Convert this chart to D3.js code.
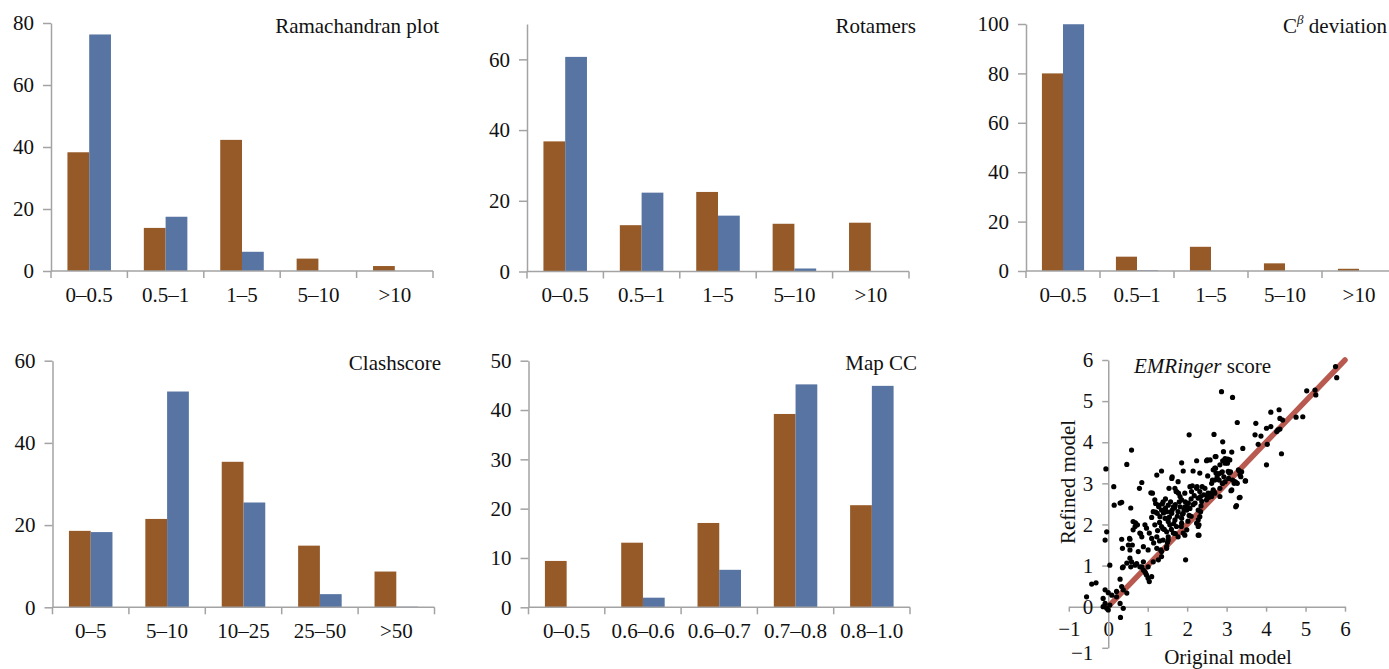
<!DOCTYPE html>
<html><head><meta charset="utf-8">
<script src="https://cdn.jsdelivr.net/npm/d3@7"></script>
<style>
body{margin:0;background:#fff;}
svg{display:block;}
text{font-family:"Liberation Serif","Times New Roman",serif;fill:#111;}
</style>
</head><body>
<svg id="c" width="1389" height="669"></svg>
<script>
// ---------- DATA ----------
const seriesNames = ["Original model", "Refined model"];

const ramaCats = ["0–0.5", "0.5–1", "1–5", "5–10", ">10"];
const ramaOriginal = [38.3, 13.9, 42.3, 4.0, 1.6];
const ramaRefined = [76.3, 17.5, 6.2, 0, 0];
const ramaTicks = [0, 20, 40, 60, 80];

const rotaCats = ["0–0.5", "0.5–1", "1–5", "5–10", ">10"];
const rotaOriginal = [36.8, 13.1, 22.5, 13.5, 13.8];
const rotaRefined = [60.7, 22.3, 15.8, 0.85, 0];
const rotaTicks = [0, 20, 40, 60];

const cbCats = ["0–0.5", "0.5–1", "1–5", "5–10", ">10"];
const cbOriginal = [80, 5.8, 9.8, 3.1, 0.9];
const cbRefined = [99.9, 0.3, 0, 0, 0];
const cbTicks = [0, 20, 40, 60, 80, 100];

const clashCats = ["0–5", "5–10", "10–25", "25–50", ">50"];
const clashOriginal = [18.6, 21.5, 35.4, 15.0, 8.7];
const clashRefined = [18.3, 52.5, 25.5, 3.2, 0.15];
const clashTicks = [0, 20, 40, 60];

const ccCats = ["0–0.5", "0.6–0.6", "0.6–0.7", "0.7–0.8", "0.8–1.0"];
const ccOriginal = [9.4, 13.1, 17.1, 39.2, 20.7];
const ccRefined = [0, 1.95, 7.6, 45.2, 44.9];
const ccTicks = [0, 10, 20, 30, 40, 50];

const emrTicks = [-1, 0, 1, 2, 3, 4, 5, 6];
const diagX = [0, 6];
const diagY = [0, 6];
const emrOriginal = [
 5.76,5.79,5.24,5.03,5.26,2.87,3.15,4.12,4.33,4.35,4.42,4.76,4.93,3.27,3.74,4.01,4.12,4.27,4.35,4.30,3.72,3.87,3.80,4.03,2.68,2.90,4.39,4.01,3.41,3.13,2.92,2.05,0.59,0.47,-0.06,
 2.49,2.90,3.00,2.83,2.66,2.73,3.32,3.34,3.07,3.47,3.24,3.11,3.32,3.23,1.86,2.24,2.58,2.73,3.03,2.96,1.61,1.90,2.15,2.32,2.52,2.70,2.87,3.04,3.30,3.21,3.13,1.77,2.07,2.24,2.45,2.62,2.70,2.81,2.96,1.69,1.73,1.94,2.11,2.32,2.53,2.66,2.83,2.28,2.62,2.83,2.49,1.86,2.03,2.20,2.37,1.52,1.65,1.82,1.94,2.07,1.48,1.61,1.77,1.90,1.99,2.28,1.52,1.69,1.86,2.32,1.56,1.73,1.86,2.24,2.28,1.48,1.65,1.77,1.90,1.52,2.28,1.96,1.48,
 0.14,0.79,0.85,1.23,1.35,1.08,0.15,0.30,0.34,0.57,1.18,1.27,1.39,1.35,1.14,1.10,1.31,1.44,0.63,0.68,0.93,0.97,1.18,1.35,1.52,-0.04,-0.08,0.34,0.55,0.80,0.85,1.04,1.10,1.23,1.39,1.52,0.36,0.51,0.55,0.76,0.89,1.01,1.23,1.35,1.48,0.55,0.59,0.47,0.38,0.68,0.89,0.85,1.01,1.14,1.27,1.35,0.04,0.93,0.97,1.01,1.04,1.10,-0.42,-0.31,-0.55,-0.08,0,0.21,0.34,0.38,0.47,0.09,0.21,-0.13,-0.08,-0.13,-0.04,0,0.04,0.30,0.38,0.31,0.30,0.36,
 0.54,0.57,0.61,0.63,0.69,0.74,0.82,0.72,0.80,0.89,0.95,1.24,1.20,1.28,1.37,1.41,1.12,1.62,1.54,1.72,1.78,1.82,1.99,1.94,2.13,2.25,2.38,2.34,2.28,2.30,2.30,2.34,2.51,2.60,2.68,2.64,2.76,2.81,2.89,2.93,2.89,2.72,3.10,3.15,3.19,3.27,3.25,3.38,3.36,3.34,3.48,2.51,2.71,2.96,3.08,3.02,
 1.30,1.40,1.45,1.58,1.62,1.70,1.75,1.80,1.95,2.00,2.10,2.15,2.18,1.55,1.66,1.42,1.60,1.25,1.15,1.30,1.33,1.50,1.70,1.85,2.10,2.35,2.55,2.70,2.90,3.05,1.20,1.45,1.68,1.92,2.05,2.42,1.38,1.58,1.88,2.02
];
const emrRefined = [
 5.84,5.57,5.27,5.25,5.15,5.23,5.09,4.73,4.79,4.58,4.54,4.61,4.62,4.48,4.46,4.34,4.38,4.26,4.32,4.30,4.18,4.15,3.95,3.95,4.19,4.01,3.72,3.45,3.85,3.76,3.77,4.18,3.81,3.46,3.35,
 3.55,3.55,3.57,3.45,3.33,3.25,3.30,3.20,3.25,3.06,3.02,2.82,2.65,2.43,3.50,3.55,3.57,3.65,3.59,3.49,3.12,3.30,3.30,3.25,3.18,3.37,3.26,3.29,3.33,3.04,2.84,3.04,2.92,2.88,2.88,3.00,3.08,3.08,3.04,2.88,2.80,2.76,2.80,2.80,2.76,2.84,2.88,2.64,2.68,2.68,2.60,2.60,2.52,2.52,2.56,2.47,2.43,2.43,2.43,2.39,2.31,2.27,2.31,2.27,2.35,2.35,2.15,2.11,2.15,2.19,1.99,1.95,2.03,2.03,1.95,1.82,1.79,1.70,1.79,1.62,1.74,1.14,1.46,
 2.92,2.88,3.02,3.20,3.30,2.77,2.47,2.52,2.54,2.40,2.60,2.47,2.55,2.35,2.31,2.17,2.19,2.15,2.07,1.95,1.99,1.91,1.99,1.95,2.07,1.82,1.62,1.64,1.64,1.79,1.70,1.79,1.66,1.70,1.62,1.70,1.42,1.50,1.38,1.34,1.46,1.38,1.42,1.34,1.42,1.18,1.09,1.06,0.97,1.01,1.09,0.97,0.97,1.09,1.14,1.22,1.01,0.85,0.77,0.69,0.61,0.73,0.55,0.58,0.24,0.41,0.34,0.37,0.49,0.41,0.33,0.28,0.24,0.20,0.08,0.00,-0.04,-0.08,0.04,0.08,-0.04,-0.26,0.67,0.95,
 1.66,0.97,1.50,1.87,2.04,1.99,1.78,1.05,0.97,0.89,0.81,2.27,2.51,2.43,2.50,2.35,2.76,3.16,2.88,2.80,2.76,2.68,1.87,1.74,2.94,2.92,2.92,2.68,2.11,1.99,1.74,2.31,2.68,2.76,2.80,3.08,3.16,3.24,3.28,3.16,3.00,3.37,3.28,3.08,3.00,3.00,2.46,3.28,3.16,2.66,3.06,3.57,3.65,3.60,3.57,3.49,
 2.05,2.28,2.40,2.55,2.35,2.48,2.20,2.55,2.55,2.45,2.62,2.48,2.70,2.18,2.02,1.88,1.88,1.85,1.55,1.60,1.38,1.56,1.78,1.95,2.20,2.45,2.66,2.76,3.00,3.12,2.30,2.62,2.40,2.36,2.22,2.72,1.90,2.30,2.25,2.08
];

// ---------- DRAW ----------
const svg = d3.select("#c");
const FS = 21;
const AXC = "#a3a3a3";
const colors = ["#955A28", "#5774A3"];

function barPanel(cfg) {
  const g = svg.append("g");
  const x0 = d3.scaleBand().domain(cfg.cats).range([cfg.xl, cfg.xr]).padding(0);
  const x1 = d3.scaleBand().domain([0, 1]).range([0, x0.bandwidth()]).paddingInner(0).paddingOuter(0.755);
  const y = d3.scaleLinear().domain([0, cfg.yMax]).range([cfg.y0, cfg.yTop]);
  const rows = cfg.cats.map((c, i) => ({cat: c, vals: [cfg.orig[i], cfg.ref[i]]}));
  const grp = g.selectAll("g.cat").data(rows).join("g")
    .attr("transform", d => `translate(${x0(d.cat)},0)`);
  grp.selectAll("rect").data(d => d.vals.map((v, k) => ({v, k}))).join("rect")
    .attr("x", d => x1(d.k)).attr("width", x1.bandwidth())
    .attr("y", d => y(d.v)).attr("height", d => y(0) - y(d.v))
    .attr("fill", d => colors[d.k]);

  const ya = g.append("g").attr("transform", `translate(${cfg.xl},0)`)
    .call(d3.axisLeft(y).tickValues(cfg.ticks).tickFormat(d3.format("d")).tickSize(8).tickSizeOuter(0).tickPadding(9));
  ya.select(".domain").attr("stroke", AXC).attr("stroke-width", 1.5);
  ya.selectAll(".tick line").attr("stroke", AXC).attr("stroke-width", 1.5);
  ya.selectAll("text").attr("font-size", FS).attr("font-family", null).attr("fill", "#111");

  const xa = g.append("g").attr("transform", `translate(0,${cfg.y0})`)
    .call(d3.axisBottom(x0).tickSize(0).tickPadding(16));
  xa.select(".domain").remove();
  xa.selectAll("text").attr("font-size", FS).attr("font-family", null).attr("fill", "#111");
  g.append("line").attr("x1", cfg.xl).attr("x2", cfg.xr).attr("y1", cfg.y0).attr("y2", cfg.y0)
    .attr("stroke", AXC).attr("stroke-width", 1.5);
  const bounds = cfg.cats.map(c => x0(c)).concat([x0(cfg.cats[cfg.cats.length - 1]) + x0.bandwidth()]);
  g.selectAll("line.bt").data(bounds).join("line").attr("class", "bt")
    .attr("x1", d => d).attr("x2", d => d).attr("y1", cfg.y0).attr("y2", cfg.y0 + 7)
    .attr("stroke", AXC).attr("stroke-width", 1.5);

  const t = g.append("text").attr("x", cfg.tx).attr("y", cfg.ty).attr("text-anchor", "end").attr("font-size", FS);
  if (cfg.titleParts) {
    t.append("tspan").text(cfg.titleParts[0]);
    t.append("tspan").attr("font-size", 13).attr("font-style", "italic").attr("dy", -9).text(cfg.titleParts[1]);
    t.append("tspan").attr("dy", 9).text(cfg.titleParts[2]);
  } else {
    t.text(cfg.title);
  }
}

barPanel({cats: ramaCats, orig: ramaOriginal, ref: ramaRefined, ticks: ramaTicks, yMax: 80,
  xl: 51, xr: 433, y0: 271, yTop: 23, title: "Ramachandran plot", tx: 439, ty: 33});
barPanel({cats: rotaCats, orig: rotaOriginal, ref: rotaRefined, ticks: rotaTicks, yMax: 70,
  xl: 527, xr: 909, y0: 271.5, yTop: 24, title: "Rotamers", tx: 916, ty: 33});
barPanel({cats: cbCats, orig: cbOriginal, ref: cbRefined, ticks: cbTicks, yMax: 100,
  xl: 1026, xr: 1396, y0: 271, yTop: 24, titleParts: ["C", "β", " deviation"], tx: 1387, ty: 33});
barPanel({cats: clashCats, orig: clashOriginal, ref: clashRefined, ticks: clashTicks, yMax: 60,
  xl: 52.5, xr: 434.5, y0: 607.3, yTop: 360.7, title: "Clashscore", tx: 441, ty: 370});
barPanel({cats: ccCats, orig: ccOriginal, ref: ccRefined, ticks: ccTicks, yMax: 50,
  xl: 528.5, xr: 910, y0: 607.3, yTop: 360.7, title: "Map CC", tx: 917, ty: 370});

// ---------- scatter ----------
(function () {
  const g = svg.append("g");
  const xs = d3.scaleLinear().domain([-1, 6]).range([1068.8, 1345]);
  const ys = d3.scaleLinear().domain([-1, 6]).range([647.8, 360]);

  const xa = g.append("g").attr("transform", `translate(0,${ys(0)})`)
    .call(d3.axisBottom(xs).tickValues(emrTicks).tickFormat(d3.format("d")).tickSize(5).tickSizeOuter(0).tickPadding(9));
  const ya = g.append("g").attr("transform", `translate(${xs(0)},0)`)
    .call(d3.axisLeft(ys).tickValues(emrTicks).tickFormat(d3.format("d")).tickSize(6).tickSizeOuter(0).tickPadding(9));
  [xa, ya].forEach(a => {
    a.select(".domain").attr("stroke", AXC).attr("stroke-width", 1.5);
    a.selectAll(".tick line").attr("stroke", AXC).attr("stroke-width", 1.5);
    a.selectAll("text").attr("font-size", FS).attr("font-family", null).attr("fill", "#111");
  });
  // lift the lowest y label slightly so it clears the x-axis "−1"
  ya.selectAll(".tick text").filter(d => d === -1).attr("dy", "0.55em");

  const line = d3.line().x(d => xs(d[0])).y(d => ys(d[1]));
  g.append("path").datum(diagX.map((v, i) => [v, diagY[i]]))
    .attr("d", line).attr("stroke", "#b95a50").attr("stroke-width", 5.5).attr("fill", "none")
    .attr("stroke-linecap", "round");

  const pts = emrOriginal.map((v, i) => [v, emrRefined[i]]);
  g.selectAll("circle").data(pts).join("circle")
    .attr("cx", d => xs(d[0])).attr("cy", d => ys(d[1])).attr("r", 2.6).attr("fill", "#000");

  const t = g.append("text").attr("x", 1134).attr("y", 373).attr("font-size", FS);
  t.append("tspan").attr("font-style", "italic").text("EMRinger");
  t.append("tspan").text(" score");

  g.append("text").attr("transform", "translate(1075,482) rotate(-90)").attr("text-anchor", "middle")
    .attr("font-size", FS).text(seriesNames[1]);
  g.append("text").attr("x", 1228).attr("y", 664).attr("text-anchor", "middle")
    .attr("font-size", FS).text(seriesNames[0]);
})();
</script>
</body></html>
